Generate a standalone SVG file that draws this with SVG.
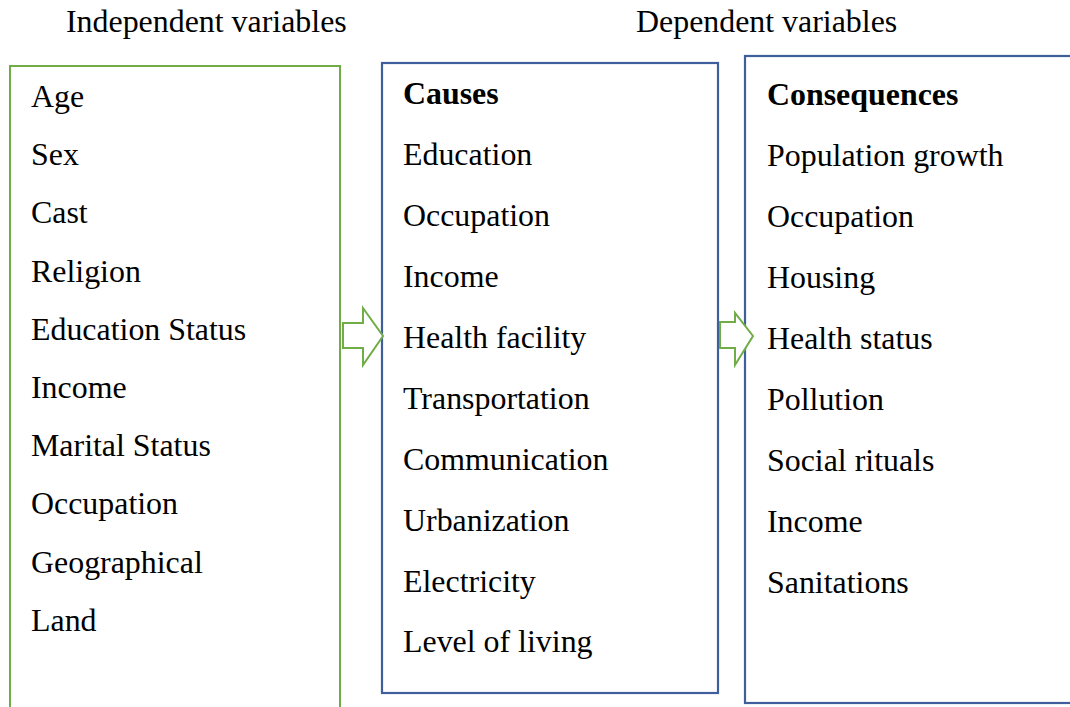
<svg xmlns="http://www.w3.org/2000/svg" width="1070" height="707" viewBox="0 0 1070 707">
<style>
text{font-family:"Liberation Serif","Times New Roman",serif;font-size:31.9px;fill:#000}
.b{font-weight:bold}
.g{fill:none;stroke:#70AD47;stroke-width:2}
.bl{fill:none;stroke:#3F5F9C;stroke-width:2.2}
.ar{fill:#fff;stroke:#70AD47;stroke-width:2}
</style>
<rect width="1070" height="707" fill="#fff"/>
<text x="66" y="32">Independent variables</text>
<text x="636" y="32">Dependent variables</text>
<g id="independent">
<rect class="g" x="10" y="66" width="330" height="660"/>
<text x="31" y="107">Age</text>
<text x="31" y="165.2">Sex</text>
<text x="31" y="223.4">Cast</text>
<text x="31" y="281.6">Religion</text>
<text x="31" y="339.8">Education Status</text>
<text x="31" y="398">Income</text>
<text x="31" y="456.2">Marital Status</text>
<text x="31" y="514.4">Occupation</text>
<text x="31" y="572.6">Geographical</text>
<text x="31" y="630.8">Land</text>
</g>
<g id="causes">
<rect class="bl" x="382" y="63" width="336" height="630"/>
<text class="b" x="403" y="104">Causes</text>
<text x="403" y="165">Education</text>
<text x="403" y="226">Occupation</text>
<text x="403" y="287">Income</text>
<text x="403" y="348">Health facility</text>
<text x="403" y="409">Transportation</text>
<text x="403" y="469.5">Communication</text>
<text x="403" y="530.5">Urbanization</text>
<text x="403" y="591.5">Electricity</text>
<text x="403" y="652">Level of living</text>
</g>
<g id="consequences">
<rect class="bl" x="745" y="56" width="340" height="647"/>
<text class="b" x="767" y="105">Consequences</text>
<text x="767" y="166">Population growth</text>
<text x="767" y="227">Occupation</text>
<text x="767" y="288">Housing</text>
<text x="767" y="349">Health status</text>
<text x="767" y="410">Pollution</text>
<text x="767" y="471">Social rituals</text>
<text x="767" y="532">Income</text>
<text x="767" y="593">Sanitations</text>
</g>
<g id="connectors">
<polygon class="ar" points="343,323 363,323 363,308 383,336 363,365 363,348 343,348"/>
<polygon class="ar" points="720,322 735,322 735,313 753,336 735,365 735,348 720,348"/>
</g>
</svg>
